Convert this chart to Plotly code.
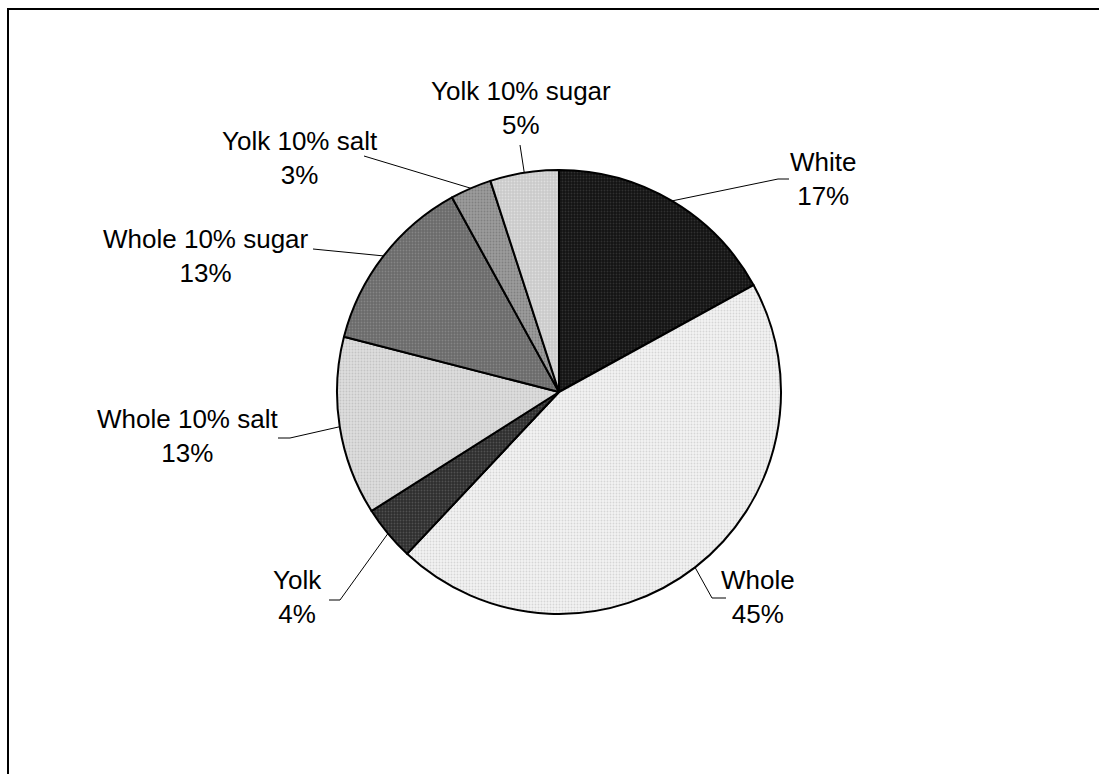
import math
import plotly.graph_objects as go

# ---- data ----
labels = ["White", "Whole", "Yolk", "Whole 10% salt", "Whole 10% sugar",
          "Yolk 10% salt", "Yolk 10% sugar"]
values = [17, 45, 4, 13, 13, 3, 5]

# ---- styles / layout constants ----
colors = ["#131313", "#f3f3f3", "#2e2e2e", "#dedede", "#6a6a6a", "#9c9c9c", "#cacaca"]
dots = ["#303030", "#d6d6d6", "#505050", "#c4c4c4", "#858585", "#808080", "#dedede"]
W, H = 1099, 774
CX, CY, R = 559, 392, 222
FONT = dict(family="Liberation Sans, Arial, sans-serif", size=26, color="#000000")

# label block centre and leader path (label end -> elbow), in pixels
label_pos = {
    "White": ((823, 179), [(789, 179), (778, 179)]),
    "Whole": ((758, 597), [(726, 598), (712, 598)]),
    "Yolk": ((297, 597), [(329, 600), (340, 600)]),
    "Whole 10% salt": ((187, 436), [(278, 438), (290, 438)]),
    "Whole 10% sugar": ((206, 256), [(313, 249)]),
    "Yolk 10% salt": ((300, 158), [(364, 156)]),
    "Yolk 10% sugar": ((521, 108), [(520, 145)]),
}

fig = go.Figure()

fig.add_trace(go.Pie(
    labels=labels, values=values, sort=False, direction="clockwise", rotation=0,
    textinfo="none", hoverinfo="label+percent",
    marker=dict(colors=colors, line=dict(color="#000000", width=2),
                pattern=dict(shape=".", fgcolor=dots, bgcolor=colors, size=3,
                             solidity=0.3, fillmode="replace")),
    domain=dict(x=[(CX - R) / W, (CX + R) / W], y=[1 - (CY + R) / H, 1 - (CY - R) / H]),
    showlegend=False,
))

total = sum(values)
cum = 0
for lab, v in zip(labels, values):
    mid = (cum + v / 2) / total * 2 * math.pi
    cum += v
    ex, ey = CX + R * math.sin(mid), CY - R * math.cos(mid)
    (tx, ty), path = label_pos[lab]
    xs = [p[0] for p in path] + [ex]
    ys = [p[1] for p in path] + [ey]
    fig.add_trace(go.Scatter(x=xs, y=ys, mode="lines", line=dict(color="#000000", width=1),
                             hoverinfo="skip", showlegend=False))
    pct = round(v / total * 100)
    fig.add_annotation(x=tx, y=ty, xref="x", yref="y", text=f"{lab}<br>{pct}%",
                       showarrow=False, font=FONT, align="center",
                       xanchor="center", yanchor="middle")

# frame: left and top edges, drawn as one open path
fig.add_shape(type="path", xref="x", yref="y",
              path=f"M 8 {H + 20} L 8 9 L {W + 20} 9",
              line=dict(color="#000000", width=2), fillcolor="rgba(0,0,0,0)")

fig.update_layout(
    width=W, height=H, margin=dict(l=0, r=0, t=0, b=0),
    paper_bgcolor="#ffffff", plot_bgcolor="rgba(0,0,0,0)",
    xaxis=dict(range=[0, W], visible=False, showline=False, zeroline=False,
               showgrid=False, domain=[0, 1], fixedrange=True),
    yaxis=dict(range=[H, 0], visible=False, showline=False, zeroline=False,
               showgrid=False, domain=[0, 1], fixedrange=True),
    showlegend=False,
)

fig.write_html("out.html")
